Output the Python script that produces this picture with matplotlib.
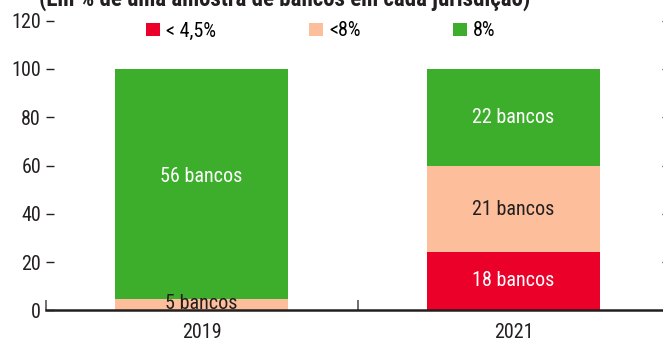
import matplotlib
matplotlib.use("Agg")
import matplotlib.pyplot as plt
import numpy as np

plt.rcParams['font.family'] = ['Roboto Condensed', 'Archivo Narrow', 'PT Sans Narrow', 'DejaVu Sans']

# dados: % da amostra de bancos por faixa
anos = ['2019', '2021']
faixas = ['< 4,5%', '<8%', '8%']
abaixo_45 = [0.0, 24.3]
abaixo_8 = [4.7, 35.3]
oito = [95.3, 40.4]
rotulos = [['', '18 bancos'], ['5 bancos', '21 bancos'], ['56 bancos', '22 bancos']]

cores = ['#EA0029', '#FDBE9B', '#3DAE2B']
cor_texto = ['white', '#231F20', 'white']
fs = 14.5

fig = plt.figure(figsize=(6.63, 3.43), dpi=100)
W, H = 663, 343
x0, x1 = 45.5, 669.5
y0, y1 = 310.3, 20.7
ax = fig.add_axes([x0 / W, 1 - y0 / H, (x1 - x0) / W, (y0 - y1) / H])

x = np.arange(len(anos))
base = np.zeros(len(anos))
series = [abaixo_45, abaixo_8, oito]
for i, vals in enumerate(series):
    ax.bar(x, vals, width=0.555, bottom=base, color=cores[i], label=faixas[i], zorder=2)
    for j, v in enumerate(vals):
        if not rotulos[i][j]:
            continue
        if v < 10:
            # segmento fino: rótulo apoiado no eixo
            ax.text(x[j], 0.4, rotulos[i][j], ha='center', va='baseline',
                    fontsize=fs, color=cor_texto[i], zorder=3)
        else:
            ym = base[j] + v / 2
            if base[j] + v > 99 and base[j] < 10:
                ym = 55.5  # barra quase inteira verde: texto um pouco acima do meio
            ax.text(x[j], ym, rotulos[i][j], ha='center', va='center',
                    fontsize=fs, color=cor_texto[i], zorder=3)
    base = base + np.array(vals)

ax.set_xlim(-0.5, 1.5)
ax.set_ylim(0, 120)

for s in ['left', 'top', 'right']:
    ax.spines[s].set_visible(False)
ax.spines['bottom'].set_linewidth(1.8)
ax.spines['bottom'].set_color('#231F20')

ax.set_yticks(np.arange(0, 121, 20))
ax.tick_params(axis='y', direction='in', length=6, width=1, pad=3.2,
               labelsize=fs, colors='#231F20', right=True)
ax.set_xticks(x)
ax.set_xticklabels(anos)
ax.tick_params(axis='x', length=0, pad=9, labelsize=fs, colors='#231F20')
ax.set_xticks([-0.499, 0.5], minor=True)
ax.tick_params(axis='x', which='minor', direction='in', length=7, width=1.2, color='#555555')

leg = ax.legend(loc='center left', bbox_to_anchor=((146 - x0) / (x1 - x0), (y0 - 31) / (y0 - y1)),
                ncol=3, frameon=False, fontsize=fs, handlelength=0.7, handleheight=0.65,
                handletextpad=0.3, columnspacing=4.6, borderaxespad=0, borderpad=0)

fig.text(39 / W, 1 - 6 / H, '(Em % de uma amostra de bancos em cada jurisdição)',
         ha='left', va='baseline', fontsize=16.5, fontweight='bold', color='#231F20')

fig.savefig('out.png', dpi=100)
